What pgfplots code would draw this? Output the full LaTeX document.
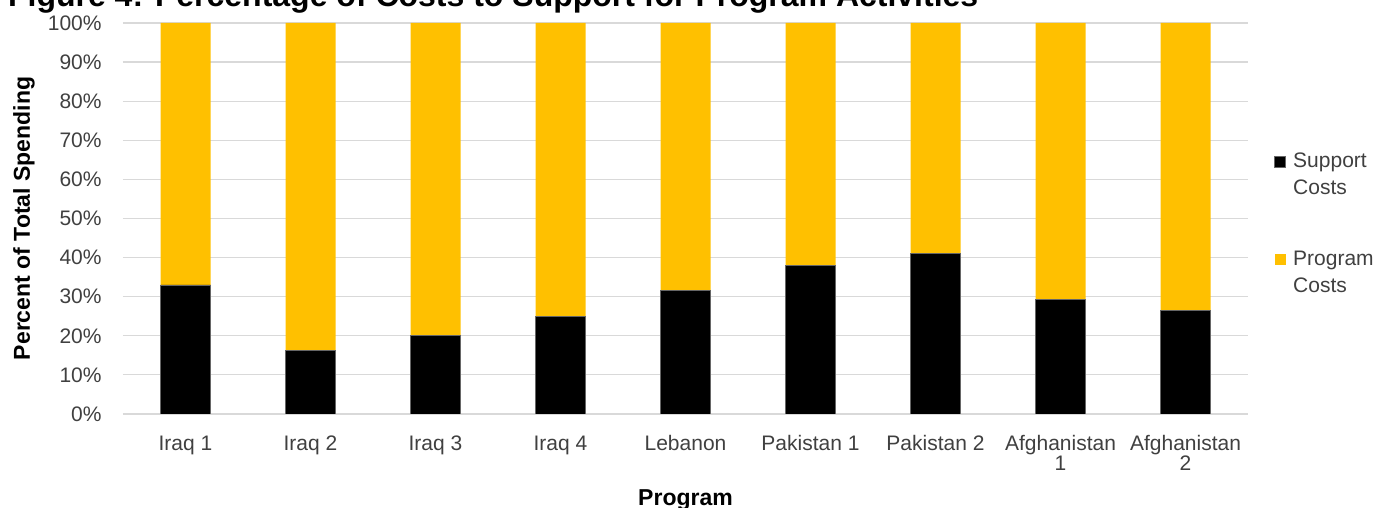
\documentclass[border=0pt]{standalone}
\usepackage{fontspec}
\setmainfont{Liberation Sans}
\usepackage{pgfplots}
\pgfplotsset{compat=1.18}
\definecolor{gold}{HTML}{FFC000}
\definecolor{gridgray}{HTML}{D9D9D9}
\definecolor{txt}{HTML}{404040}
\begin{document}
\begin{tikzpicture}
\begin{axis}[
  scale only axis, width=562.5pt, height=195.5pt,
  ybar stacked, bar width=25pt,
  xmin=-0.5, xmax=8.5, ymin=0, ymax=100,
  xtick={0,1,2,3,4,5,6,7,8},
  xticklabels={Iraq 1, Iraq 2, Iraq 3, Iraq 4, Lebanon, Pakistan 1, Pakistan 2,
    {\begin{tabular}[t]{@{}c@{}}Afghanistan\\1\end{tabular}},
    {\begin{tabular}[t]{@{}c@{}}Afghanistan\\2\end{tabular}}},
  ytick={0,10,...,100},
  /pgf/number format/assume math mode=true,
  yticklabel={\pgfmathprintnumber{\tick}\%},
  ymajorgrids, grid style={gridgray, line width=0.6pt},
  axis line style={draw=none},
  major tick length=0pt,
  tick label style={font=\fontsize{10.5pt}{10.4pt}\selectfont, text=txt},
  xticklabel style={anchor=base, yshift=-18pt},
  yticklabel style={anchor=east, inner sep=0pt, xshift=-10.5pt},
  xlabel={Program}, ylabel={Percent of Total Spending},
  every axis x label/.style={at={(axis description cs:0.5,0)}, anchor=base, yshift=-45.5pt, font=\bfseries\fontsize{11.5pt}{11.5pt}\selectfont},
  every axis y label/.style={at={(axis description cs:0,0.5)}, rotate=90, anchor=base, yshift=46.5pt, font=\bfseries\fontsize{11.5pt}{11.5pt}\selectfont},
  legend style={draw=none, fill=none, at={(rel axis cs:1,0.526)}, anchor=west, xshift=10pt,
    font=\fontsize{10.5pt}{13.5pt}\selectfont, text=txt, row sep=34pt},
  legend cell align=left,
  legend image code/.code={\fill[#1] (0pt,-4pt) rectangle (5.5pt,1.5pt); \path (7pt,0pt);},
]
\addplot[fill=black, draw=black!60, line width=0.4pt] coordinates {
 (0,33) (1,16.2) (2,20) (3,25) (4,31.5) (5,38) (6,41) (7,29.3) (8,26.5)};
\addlegendentry{\begin{tabular}[t]{@{}l@{}}Support\\Costs\end{tabular}}
\addplot[fill=gold, draw=none] coordinates {
 (0,67) (1,83.8) (2,80) (3,75) (4,68.5) (5,62) (6,59) (7,70.7) (8,73.5)};
\addlegendentry{\begin{tabular}[t]{@{}l@{}}Program\\Costs\end{tabular}}
\end{axis}
\node[anchor=base west, font=\bfseries\fontsize{16pt}{16pt}\selectfont] at (-61pt,203.75pt) {Figure 4: Percentage of Costs to Support for Program Activities};
\pgfresetboundingbox
\useasboundingbox (-61.5pt,-47pt) rectangle (628.5pt,207pt);
\end{tikzpicture}
\end{document}
